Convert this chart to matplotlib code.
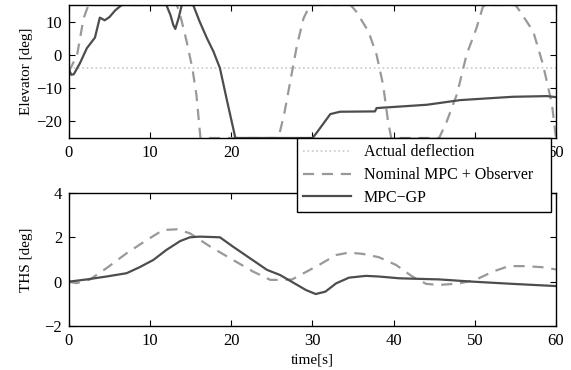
import numpy as np
import matplotlib.pyplot as plt

plt.rcParams['font.family'] = ['Liberation Serif', 'DejaVu Serif']

# Elevator deflection [deg]
t_elev_gp = [0, 0.3, 0.6, 1.35, 2.2, 3.2, 3.8, 4.4, 5.0, 5.7, 6.5, 12.0, 12.5, 12.85, 13.1,
             13.5, 13.9, 15.3, 16.1, 17.0, 17.8, 18.6, 19.4, 20.5, 30.0, 30.4, 31.3, 32.2,
             33.4, 37.7, 37.9, 44.1, 48.2, 54.7, 58.9, 60]
elev_gp = [-4.5, -6, -5.8, -2.5, 2, 5.2, 11.2, 10.4, 11.4, 13.4, 15, 15, 12, 9, 7.8,
           11, 15, 15, 10, 5, 1, -4, -13, -25, -25, -23.8, -20.8, -17.8,
           -17.1, -17, -16, -15, -13.6, -12.6, -12.4, -12.7]

t_elev_nom = [0, 1.0, 1.8, 2.4, 13.3, 13.8, 14.5, 15.2, 15.7, 16.2, 25.8, 26.5, 27.3, 28.1,
              28.9, 29.7, 34.7, 35.4, 36.9, 37.9, 38.7, 39.3, 39.7, 45.6, 46.5, 47.8, 49.0,
              50.2, 51.0, 51.3, 55.0, 55.6, 57.2, 58.4, 59.5, 60]
elev_nom = [-5, 0, 11, 15, 15, 11, 4, -4, -12, -25, -25, -18, -7.5, 3,
            11, 15, 15, 13, 7, 0, -9, -19.8, -25, -25, -20.3, -11.8, 0.2,
            8, 14.5, 15, 15, 13, 7, -2.9, -14.8, -25]

t_elev_act = [0, 60]
elev_act = [-4, -4]

# Trimmable horizontal stabilizer [deg]
t_ths_gp = [0, 2.2, 4.6, 7.1, 8.7, 10.4, 12.0, 13.7, 14.9, 16.1, 18.6, 20.2, 24.4, 26.0,
            28.5, 29.2, 30.4, 31.6, 32.9, 34.5, 36.6, 38.2, 40.7, 45.6, 49.7, 54.6, 60]
ths_gp = [0, 0.1, 0.23, 0.38, 0.65, 0.98, 1.43, 1.83, 2.0, 2.03, 2.0, 1.58, 0.53, 0.3,
          -0.23, -0.38, -0.56, -0.45, -0.08, 0.18, 0.26, 0.23, 0.15, 0.1, 0, -0.1, -0.2]

t_ths_nom = [0, 0.9, 2.6, 4.6, 7.1, 9.6, 11.6, 13.3, 14.9, 17.4, 20.2, 22.7, 24.8, 26.0,
             27.5, 28.5, 30.8, 32.9, 34.5, 36.2, 38.2, 40.3, 42.3, 44.0, 45.6, 48.1, 50.1,
             52.2, 54.2, 56.3, 58.3, 60]
ths_nom = [0, -0.07, 0.1, 0.6, 1.28, 1.88, 2.33, 2.36, 2.18, 1.58, 0.98, 0.45, 0.08, 0.08,
           0.1, 0.3, 0.75, 1.2, 1.31, 1.25, 1.1, 0.75, 0.23, -0.1, -0.15, -0.08, 0.08,
           0.45, 0.7, 0.7, 0.65, 0.55]

c_gp = '#4d4d4d'
c_nom = '#999999'
c_act = '#c8c8c8'

fig = plt.figure(figsize=(5.71, 3.70), dpi=100)
ax1 = fig.add_axes([0.1208, 0.627, 0.8529, 0.3595])
ax2 = fig.add_axes([0.1208, 0.119, 0.8529, 0.3595])

l_act, = ax1.plot(t_elev_act, elev_act, ':', color=c_act, lw=1.2)
l_nom, = ax1.plot(t_elev_nom, elev_nom, '--', color=c_nom, lw=1.6, dashes=(5, 3.5))
l_gp, = ax1.plot(t_elev_gp, elev_gp, '-', color=c_gp, lw=1.6)
ax1.set_xlim(0, 60)
ax1.set_ylim(-25, 15)
ax1.set_yticks([-20, -10, 0, 10])
ax1.set_xticks(np.arange(0, 61, 10))
ax1.set_ylabel('Elevator [deg]', fontsize=11)

ax2.plot(t_ths_nom, ths_nom, '--', color=c_nom, lw=1.6, dashes=(5, 3.5))
ax2.plot(t_ths_gp, ths_gp, '-', color=c_gp, lw=1.6)
ax2.set_xlim(0, 60)
ax2.set_ylim(-2, 4)
ax2.set_yticks([-2, 0, 2, 4])
ax2.set_xticks(np.arange(0, 61, 10))
ax2.set_ylabel('THS [deg]', fontsize=11)
ax2.set_xlabel('time[s]', fontsize=11, labelpad=3)

for ax in (ax1, ax2):
    ax.tick_params(direction='in', top=True, right=True, labelsize=12, length=4, pad=5)
    ax.yaxis.set_label_coords(-0.073, 0.5)
    for s in ax.spines.values():
        s.set_linewidth(1.0)

leg = fig.legend([l_act, l_nom, l_gp],
                 ['Actual deflection', 'Nominal MPC + Observer', 'MPC\u2212GP'],
                 loc='upper left', bbox_to_anchor=(0.520, 0.427, 0.445, 0.2),
                 mode='expand', fancybox=False, framealpha=1, edgecolor='black',
                 fontsize=11.5, handlelength=3.0, labelspacing=0.42, borderaxespad=0)
leg.get_frame().set_linewidth(1.0)

fig.savefig('out.png', dpi=100)
